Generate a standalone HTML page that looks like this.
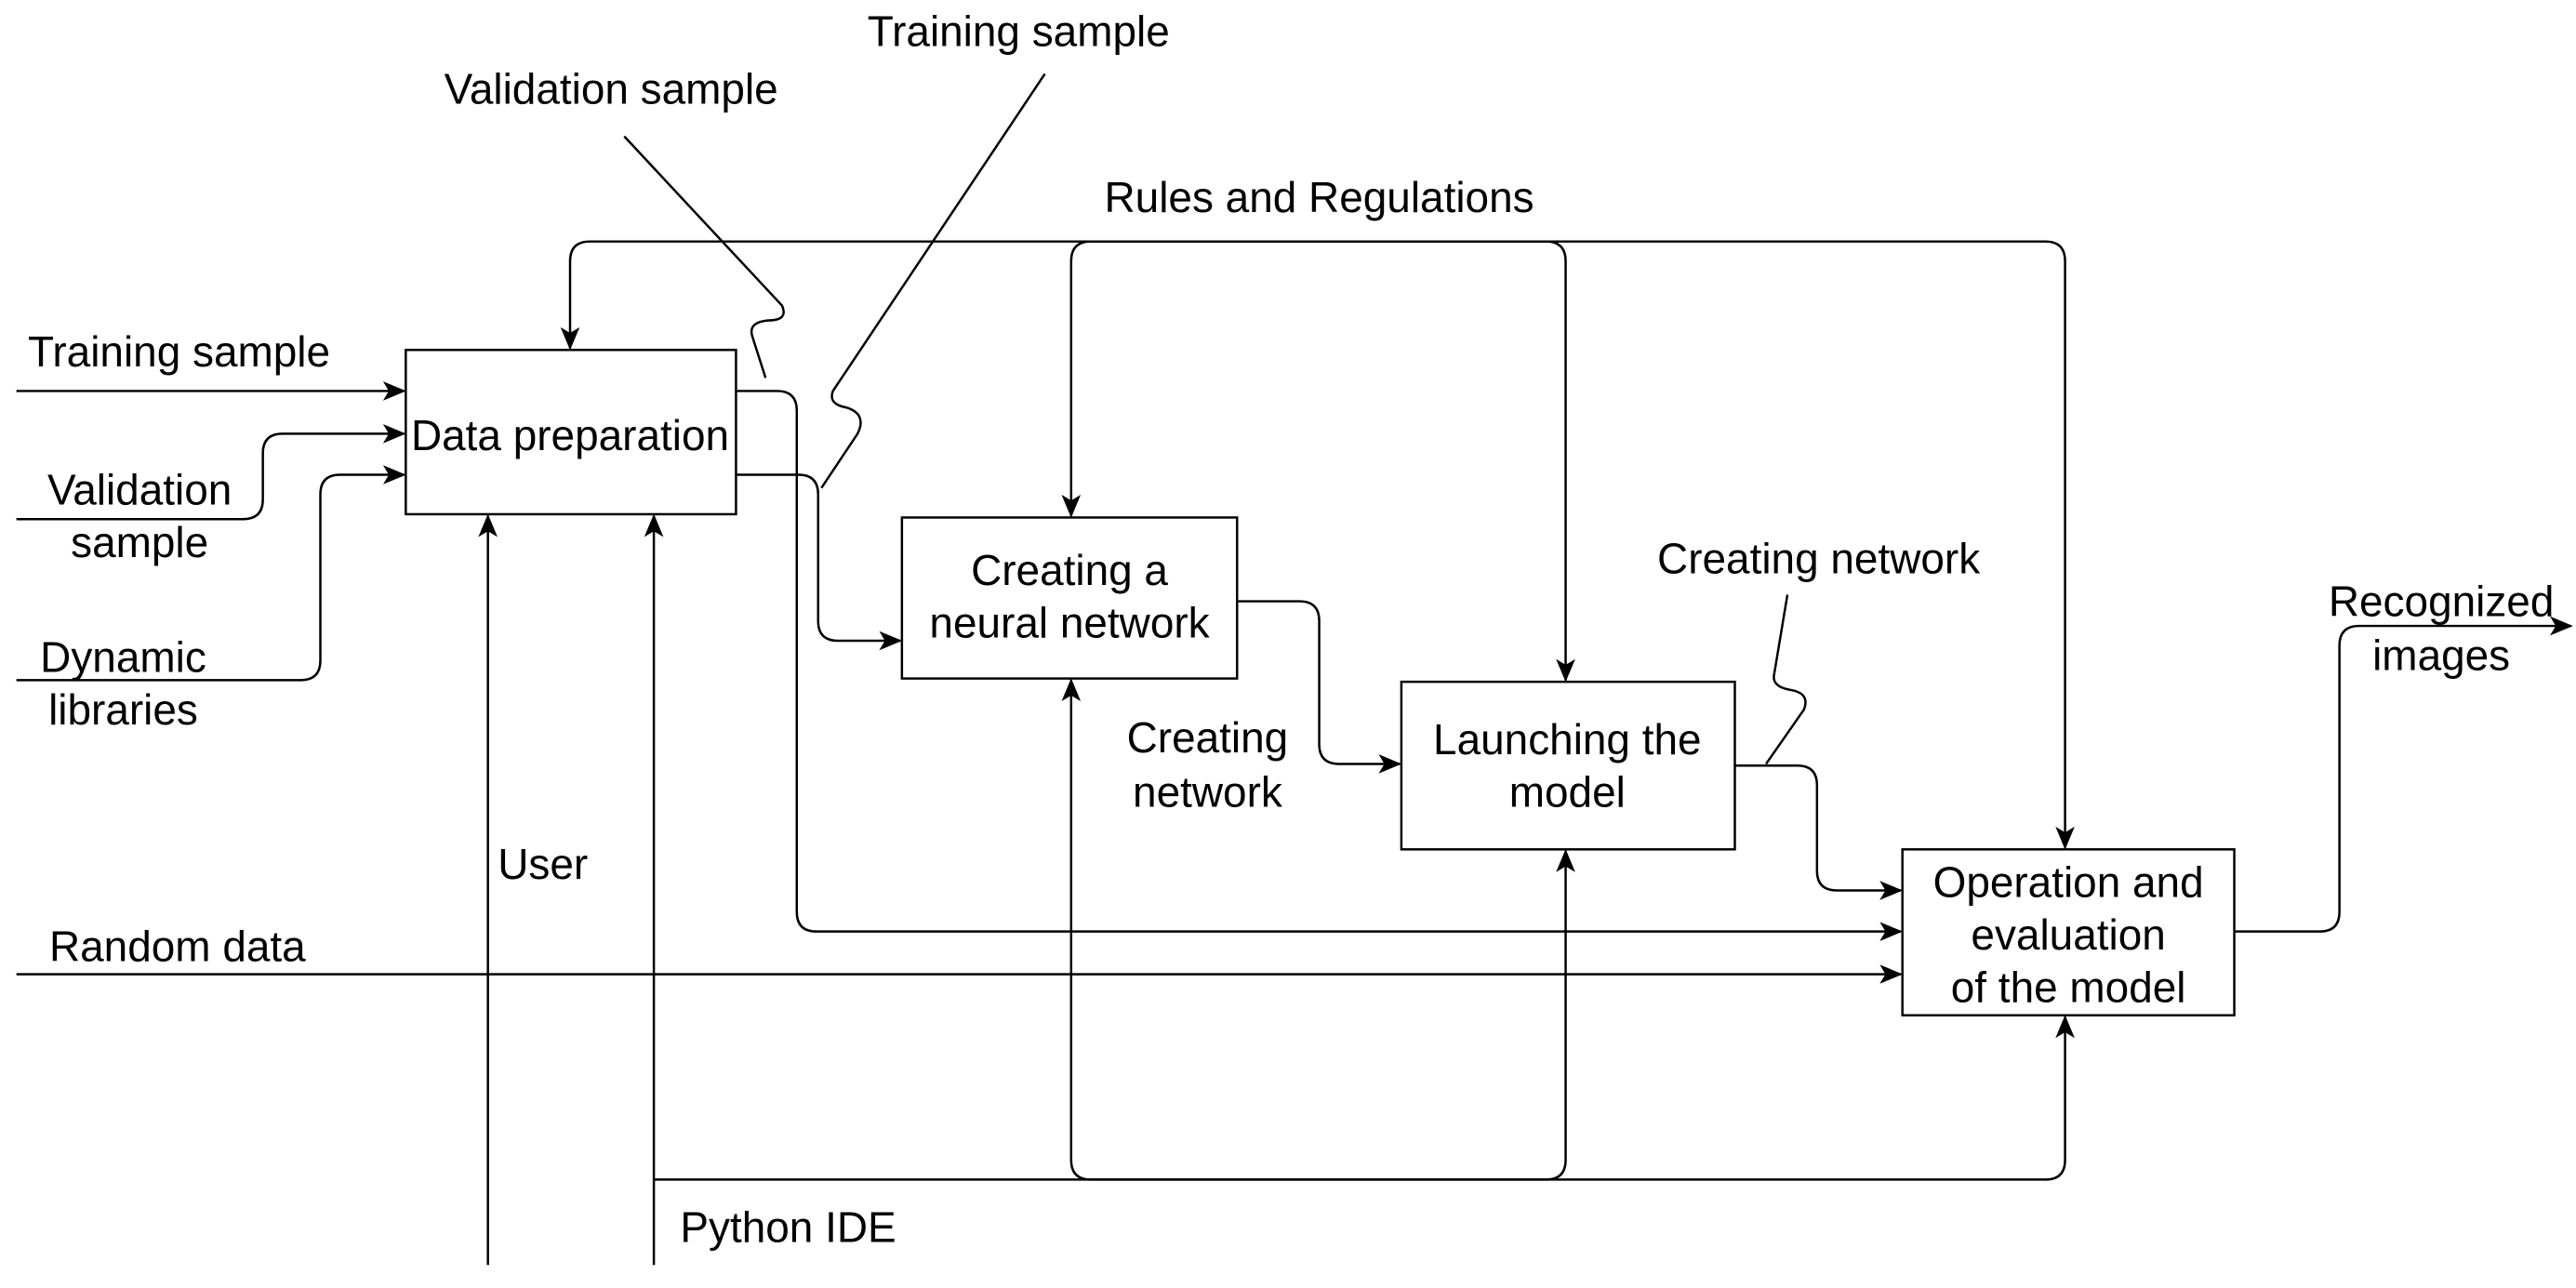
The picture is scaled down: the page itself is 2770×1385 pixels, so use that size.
<!DOCTYPE html>
<html><head><meta charset="utf-8"><style>
html,body{margin:0;padding:0;background:#fff;}
svg{display:block;}
text{font-family:"Liberation Sans",Arial,sans-serif;font-size:26px;fill:#000;}
</style></head><body>
<svg width="2770" height="1385" viewBox="0 0 1568 784" xmlns="http://www.w3.org/2000/svg">
<defs>
<marker id="a" viewBox="0 0 12 10" refX="11" refY="5" markerWidth="14" markerHeight="12" markerUnits="userSpaceOnUse" orient="auto-start-reverse">
<path d="M0,0 L12,5 L0,10 L3,5 Z" fill="#000"/>
</marker>
</defs>
<g fill="none" stroke="#000" stroke-width="1.4">
<rect x="247" y="213" width="201" height="100"/>
<rect x="549" y="315" width="204" height="98"/>
<rect x="853" y="415" width="203" height="102"/>
<rect x="1158" y="517" width="202" height="101"/>

<path d="M10,238 H246" marker-end="url(#a)"/>
<path d="M10,316 H148 Q160,316 160,304 V276 Q160,264 172,264 H246" marker-end="url(#a)"/>
<path d="M10,414 H183 Q195,414 195,402 V301 Q195,289 207,289 H246" marker-end="url(#a)"/>

<path d="M1257,516 V159 Q1257,147 1245,147 H359 Q347,147 347,159 V212" marker-start="url(#a)" marker-end="url(#a)"/>
<path d="M652,314 V159 Q652,147 664,147 H941 Q953,147 953,159 V414" marker-start="url(#a)" marker-end="url(#a)"/>
<path d="M652,414 V706 Q652,718 664,718 H941 Q953,718 953,706 V518" marker-start="url(#a)" marker-end="url(#a)"/>
<path d="M398,770 V314" marker-end="url(#a)"/>
<path d="M398,718 H1245 Q1257,718 1257,706 V619" marker-end="url(#a)"/>
<path d="M297,770 V314" marker-end="url(#a)"/>

<path d="M448,238 H473 Q485,238 485,250 V555 Q485,567 497,567 H1157" marker-end="url(#a)"/>
<path d="M448,289 H486 Q498,289 498,301 V378 Q498,390 510,390 H548" marker-end="url(#a)"/>
<path d="M753,366 H791 Q803,366 803,378 V453 Q803,465 815,465 H852" marker-end="url(#a)"/>
<path d="M1056,466 H1094 Q1106,466 1106,478 V530 Q1106,542 1118,542 H1157" marker-end="url(#a)"/>
<path d="M10,593 H1157" marker-end="url(#a)"/>
<path d="M1360,567 H1412 Q1424,567 1424,555 V393 Q1424,381 1436,381 H1565" marker-end="url(#a)"/>

<path d="M380,83 L476,186 Q480,195 468,195 Q455,196 458,205 L466,230"/>
<path d="M636,45 L507,238 Q504,246 515,248 Q528,252 522,264 L500,297"/>
<path d="M1088,362 L1080,410 Q1078,418 1090,420 Q1102,422 1098,432 L1075,465"/>
</g>
<text x="17" y="223">Training sample</text>
<text x="85" y="307" text-anchor="middle">Validation</text>
<text x="85" y="339" text-anchor="middle">sample</text>
<text x="75" y="409" text-anchor="middle">Dynamic</text>
<text x="75" y="441" text-anchor="middle">libraries</text>
<text x="347" y="274" text-anchor="middle">Data preparation</text>
<text x="651" y="356" text-anchor="middle">Creating a</text>
<text x="651" y="388" text-anchor="middle">neural network</text>
<text x="954" y="459" text-anchor="middle">Launching the</text>
<text x="954" y="491" text-anchor="middle">model</text>
<text x="1259" y="546" text-anchor="middle">Operation and</text>
<text x="1259" y="578" text-anchor="middle">evaluation</text>
<text x="1259" y="610" text-anchor="middle">of the model</text>
<text x="620" y="28" text-anchor="middle">Training sample</text>
<text x="372" y="63" text-anchor="middle">Validation sample</text>
<text x="803" y="129" text-anchor="middle">Rules and Regulations</text>
<text x="1107" y="349" text-anchor="middle">Creating network</text>
<text x="735" y="458" text-anchor="middle">Creating</text>
<text x="735" y="491" text-anchor="middle">network</text>
<text x="1486" y="375" text-anchor="middle">Recognized</text>
<text x="1486" y="408" text-anchor="middle">images</text>
<text x="30" y="585">Random data</text>
<text x="303" y="535">User</text>
<text x="414" y="756">Python IDE</text>
</svg>
</body></html>
